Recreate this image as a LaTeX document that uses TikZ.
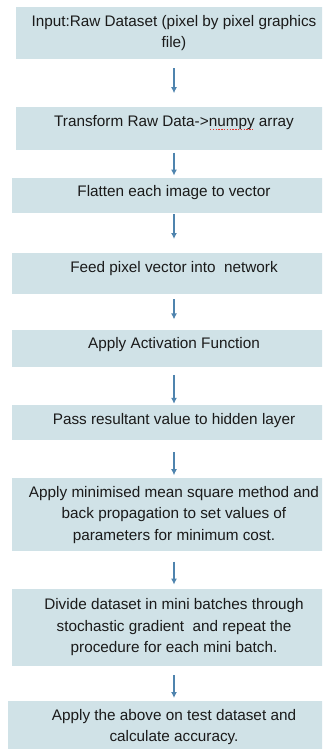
\documentclass[tikz,border=0pt]{standalone}
\usepackage{fontspec}
\setmainfont{Liberation Sans}
\usepackage{tikz}
\usetikzlibrary{arrows.meta,positioning}
\definecolor{boxfill}{HTML}{D0E2E7}
\definecolor{arrowblue}{HTML}{4F84AE}
\definecolor{textgray}{HTML}{1A1A1A}
\definecolor{spellred}{HTML}{E8302A}
\tikzset{
box/.style = {fill=boxfill, rectangle, align=center, text=textgray, font=\fontsize{15.3}{21.5}\selectfont, minimum width=324pt},
oneline/.style = {inner ysep=0pt, text height=19pt, text depth=#1},
flow/.style = {->, draw=arrowblue, line width=1.3pt},
spell/.style = {draw=spellred, line width=1.4pt, dash pattern=on 1.4pt off 1.4pt}
}

\begin{document}
\begin{tikzpicture}[x=1pt, y=-1pt, node distance=30pt, >={Latex[length=6pt,width=6pt]}]
    \useasboundingbox (0,0) rectangle (322,749);
    \clip (0,0) rectangle (322,749);
    \node [box, minimum width=316pt, minimum height=52pt] (input) at (174,33) {Input:Raw Dataset (pixel by pixel graphics\\file)};
    \node [box, oneline=24pt, minimum width=316pt, below=48pt of input] (trans) {Transform Raw Data->numpy array};
    \node [box, oneline=16pt, below=27pt of trans] (flat) {Flatten each image to vector};
    \node [box, oneline=22pt, below=40pt of flat] (feed) {Feed pixel vector into~ network};
    \node [box, oneline=18pt, below=35pt of feed] (act) {Apply Activation Function};
    \node [box, oneline=16pt, below=38pt of act] (hidden) {Pass resultant value to hidden layer};
    \node [box, minimum height=73pt, below=38pt of hidden] (mse) {Apply minimised mean square method and\\back propagation to set values of\\parameters for minimum cost.};
    \node [box, minimum height=77pt, below=37pt of mse] (batch) {Divide dataset in mini batches through\\stochastic gradient~ and repeat the\\procedure for each mini batch.};
    \node [box, minimum width=332pt, minimum height=52pt, below=35pt of batch] (test) {Apply the above on test dataset and\\calculate accuracy.};
    % spell check mark under numpy
    \draw [spell] ([xshift=36pt,yshift=-3pt]trans.base) -- ++(43,0);
    \draw [flow, shorten <=9pt, shorten >=14pt] (input) -- (trans);
    \draw [flow, shorten <=2pt, shorten >=2pt] (trans) -- (flat);
    \draw [flow, shorten <=1pt, shorten >=14pt] (flat) -- (feed);
    \draw [flow, shorten <=5pt, shorten >=10pt] (feed) -- (act);
    \draw [flow, shorten <=8pt, shorten >=1pt] (act) -- (hidden);
    \draw [flow, shorten <=12pt, shorten >=3pt] (hidden) -- (mse);
    \draw [flow, shorten <=10pt, shorten >=4pt] (mse) -- (batch);
    \draw [flow, shorten <=9pt, shorten >=3pt] (batch) -- (test);
\end{tikzpicture}
\end{document}
